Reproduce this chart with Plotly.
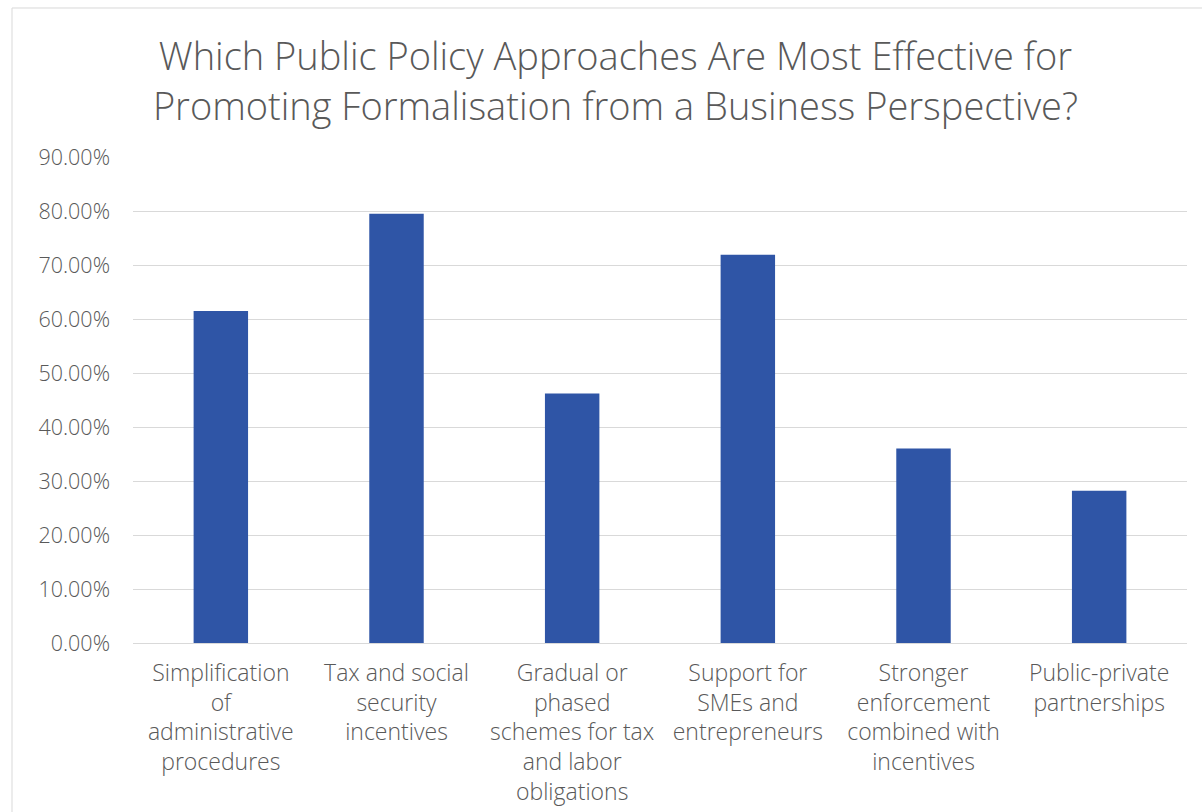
import plotly.graph_objects as go

categories = [
    "Simplification<br>of<br>administrative<br>procedures",
    "Tax and social<br>security<br>incentives",
    "Gradual or<br>phased<br>schemes for tax<br>and labor<br>obligations",
    "Support for<br>SMEs and<br>entrepreneurs",
    "Stronger<br>enforcement<br>combined with<br>incentives",
    "Public-private<br>partnerships",
]
values = [0.615, 0.795, 0.462, 0.719, 0.360, 0.282]
tick_vals = [0, 0.1, 0.2, 0.3, 0.4, 0.5, 0.6, 0.7, 0.8, 0.9]

title_text = ("Which Public Policy Approaches Are Most Effective for<br>"
              "Promoting Formalisation from a Business Perspective?")

FONT = "Open Sans"
GREY = "#595959"

fig = go.Figure(
    go.Bar(
        x=categories,
        y=values,
        marker=dict(color="#2F55A6", line=dict(width=0)),
        width=0.31,
        hoverinfo="skip",
    )
)

fig.update_layout(
    width=1202,
    height=812,
    margin=dict(l=133, r=15, t=157, b=169),
    paper_bgcolor="white",
    plot_bgcolor="white",
    showlegend=False,
    title=dict(
        text=title_text,
        x=0.512,
        xanchor="center",
        xref="container",
        y=0.9135,
        yanchor="middle",
        font=dict(family=FONT, size=38, color=GREY, weight=300),
    ),
    font=dict(family=FONT, size=20, color=GREY, weight=300),
    xaxis=dict(
        showgrid=False,
        showline=True,
        linecolor="#D9D9D9",
        linewidth=1,
        ticks="",
        ticklabelstandoff=9,
        tickfont=dict(family=FONT, size=23, color=GREY, weight=300),
        automargin=False,
    ),
    yaxis=dict(
        range=[0, 0.9],
        tickvals=tick_vals,
        tickformat=".2%",
        showgrid=True,
        gridcolor="#D9D9D9",
        gridwidth=1,
        zeroline=False,
        showline=False,
        ticks="",
        ticklen=0,
        ticklabelstandoff=22,
        tickfont=dict(family=FONT, size=21.5, color=GREY, weight=300),
        automargin=False,
    ),
    shapes=[
        dict(
            type="rect",
            xref="paper",
            yref="paper",
            x0=-0.1148,
            x1=1.0218,
            y0=-0.364,
            y1=1.3066,
            line=dict(color="#D9D9D9", width=1),
            fillcolor="rgba(0,0,0,0)",
            layer="below",
        )
    ],
)

fig.write_html("out.html")
